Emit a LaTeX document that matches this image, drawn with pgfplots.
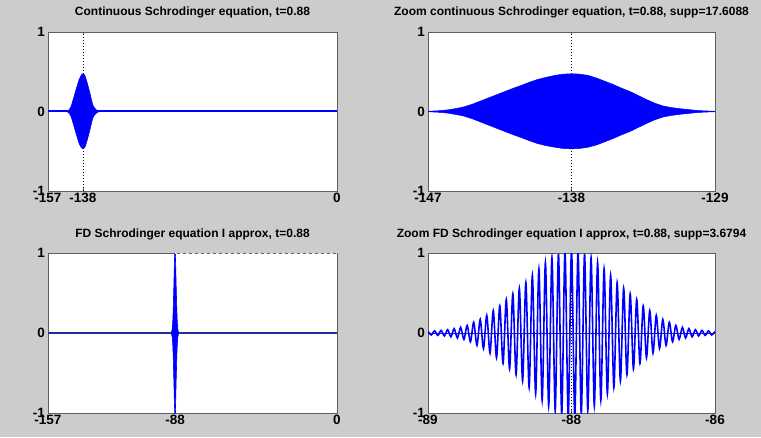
\documentclass[border=0pt]{standalone}
\usepackage{fontspec}
\setmainfont{Liberation Sans}
\usepackage{pgfplots}
\pgfplotsset{compat=1.18}
\definecolor{figbg}{RGB}{204,204,204}
\definecolor{mblue}{RGB}{0,0,255}
\definecolor{framec}{RGB}{95,95,95}
\definecolor{zline}{RGB}{40,40,150}

\pgfplotsset{
  mstyle/.style={
    scale only axis,
    anchor=south west,
    axis background/.style={fill=white},
    axis line style={framec, line width=0.9pt},
    ymin=-1, ymax=1,
    ytick={-1,0,1}, yticklabels={-1,0,1},
    tick align=inside, major tick length=3pt,
    tick style={framec, line width=0.6pt},
    ticklabel style={font=\bfseries\fontsize{13.5}{15}\selectfont},
    xticklabel style={inner sep=2pt},
    yticklabel style={inner sep=3pt},
    title style={font=\bfseries\fontsize{12}{14}\selectfont, at={(0.5,1)}, anchor=base, yshift=10pt},
  },
  dotline/.style={black, line width=0.7pt, dash pattern=on 1.2pt off 1.8pt},
}

\begin{document}
\begin{tikzpicture}[x=1pt,y=1pt]
\useasboundingbox (0,0) rectangle (761,437);
\fill[figbg] (0,0) rectangle (761,437);

% ---------- top left ----------
\begin{axis}[mstyle, at={(48pt,246pt)}, width=289pt, height=159pt,
  xmin=-157, xmax=0, xtick={-157,-138,0}, xticklabels={-157,-138,0},
  title={Continuous Schrodinger equation, t=0.88}]
\addplot[dotline] coordinates {(-138,-1) (-138,1)};
\addplot[draw=mblue, line width=2pt] coordinates {(-157,0) (0,0)};
\addplot[draw=mblue, fill=mblue, line width=0.5pt, line join=round] coordinates {
(-146.8,0.003) (-146.13,0.01) (-145.6,0.02) (-145.15,0.035) (-144.65,0.055) (-144.1,0.09) (-143.6,0.13) (-143.1,0.17) (-142.6,0.21) (-142.1,0.25) (-141.6,0.29) (-141.05,0.33) (-140.55,0.37) (-140.05,0.405) (-139.55,0.43) (-139,0.455) (-138.5,0.47) (-138,0.475)
(-137.5,0.47) (-137,0.455) (-136.45,0.42) (-135.95,0.38) (-135.45,0.34) (-134.95,0.295) (-134.4,0.25) (-133.9,0.20) (-133.4,0.15) (-132.9,0.105) (-132.4,0.07) (-131.9,0.05) (-131.35,0.035) (-130.85,0.025) (-130.4,0.015) (-129.87,0.008) (-129.2,0.003)
(-129.2,-0.003) (-129.87,-0.008) (-130.4,-0.015) (-130.85,-0.025) (-131.35,-0.035) (-131.9,-0.05) (-132.4,-0.07) (-132.9,-0.105) (-133.4,-0.15) (-133.9,-0.20) (-134.4,-0.25) (-134.95,-0.295) (-135.45,-0.34) (-135.95,-0.38) (-136.45,-0.42) (-137,-0.45) (-137.5,-0.465)
(-138,-0.47) (-138.5,-0.465) (-139,-0.45) (-139.55,-0.43) (-140.05,-0.405) (-140.55,-0.37) (-141.05,-0.33) (-141.6,-0.29) (-142.1,-0.25) (-142.6,-0.21) (-143.1,-0.17) (-143.6,-0.13) (-144.1,-0.09) (-144.65,-0.055) (-145.15,-0.035) (-145.6,-0.02) (-146.13,-0.01) (-146.8,-0.003)
} -- cycle;
\end{axis}

% ---------- top right ----------
\begin{axis}[mstyle, at={(428pt,246pt)}, width=287pt, height=159pt,
  xmin=-146.8, xmax=-129.2, xtick={-146.8,-138,-129.2}, xticklabels={-147,-138,-129},
  title={Zoom continuous Schrodinger equation, t=0.88, supp=17.6088}]
\addplot[dotline] coordinates {(-138,-1) (-138,1)};
\addplot[draw=mblue, line width=1.6pt] coordinates {(-146.8,0) (-129.2,0)};
\addplot[draw=mblue, fill=mblue, line width=0.5pt, line join=round] coordinates {
(-146.8,0.003) (-146.13,0.01) (-145.6,0.02) (-145.15,0.035) (-144.65,0.055) (-144.1,0.09) (-143.6,0.13) (-143.1,0.17) (-142.6,0.21) (-142.1,0.25) (-141.6,0.29) (-141.05,0.33) (-140.55,0.37) (-140.05,0.405) (-139.55,0.43) (-139,0.455) (-138.5,0.47) (-138,0.475)
(-137.5,0.47) (-137,0.455) (-136.45,0.42) (-135.95,0.38) (-135.45,0.34) (-134.95,0.295) (-134.4,0.25) (-133.9,0.20) (-133.4,0.15) (-132.9,0.105) (-132.4,0.07) (-131.9,0.05) (-131.35,0.035) (-130.85,0.025) (-130.4,0.015) (-129.87,0.008) (-129.2,0.003)
(-129.2,-0.003) (-129.87,-0.008) (-130.4,-0.015) (-130.85,-0.025) (-131.35,-0.035) (-131.9,-0.05) (-132.4,-0.07) (-132.9,-0.105) (-133.4,-0.15) (-133.9,-0.20) (-134.4,-0.25) (-134.95,-0.295) (-135.45,-0.34) (-135.95,-0.38) (-136.45,-0.42) (-137,-0.45) (-137.5,-0.465)
(-138,-0.47) (-138.5,-0.465) (-139,-0.45) (-139.55,-0.43) (-140.05,-0.405) (-140.55,-0.37) (-141.05,-0.33) (-141.6,-0.29) (-142.1,-0.25) (-142.6,-0.21) (-143.1,-0.17) (-143.6,-0.13) (-144.1,-0.09) (-144.65,-0.055) (-145.15,-0.035) (-145.6,-0.02) (-146.13,-0.01) (-146.8,-0.003)
} -- cycle;
\end{axis}

% ---------- bottom left ----------
\begin{axis}[mstyle, at={(48pt,24pt)}, width=289pt, height=160pt,
  xmin=-157, xmax=0, xtick={-157,-88,0}, xticklabels={-157,-88,0},
  title={FD Schrodinger equation I approx, t=0.88},
  after end axis/.code={\draw[gray!20, line width=1pt, dash pattern=on 3pt off 3pt, dash phase=1.5pt] (axis cs:-88,1) -- (axis cs:0,1);}]
\addplot[draw=zline, line width=1.2pt] coordinates {(-157,0) (0,0)};
\addplot[draw=mblue, fill=mblue, line width=0.6pt, line join=round] coordinates {
(-89.84,0.02) (-89.6,0.04) (-89.4,0.075) (-89.2,0.16) (-89,0.28) (-88.8,0.45) (-88.6,0.62) (-88.4,0.82) (-88.2,0.97) (-88,1.05)
(-87.8,0.97) (-87.6,0.82) (-87.4,0.62) (-87.2,0.45) (-87,0.28) (-86.8,0.16) (-86.6,0.075) (-86.4,0.04) (-86.16,0.02)
(-86.16,-0.02) (-86.4,-0.04) (-86.6,-0.075) (-86.8,-0.16) (-87,-0.28) (-87.2,-0.45) (-87.4,-0.62) (-87.6,-0.82) (-87.8,-0.97) (-88,-1.05)
(-88.2,-0.97) (-88.4,-0.82) (-88.6,-0.62) (-88.8,-0.45) (-89,-0.28) (-89.2,-0.16) (-89.4,-0.075) (-89.6,-0.04) (-89.84,-0.02)
} -- cycle;
\end{axis}

% ---------- bottom right ----------
\begin{axis}[mstyle, at={(428pt,24pt)}, width=287pt, height=160pt,
  xmin=-89.84, xmax=-86.16, xtick={-89.84,-88,-86.16}, xticklabels={-89,-88,-86},
  title={Zoom FD Schrodinger equation I approx, t=0.88, supp=3.6794}]
\addplot[draw=zline, line width=0.8pt] coordinates {(-89.84,0) (-86.16,0)};
\addplot[dotline] coordinates {(-88,-1) (-88,1)};
\addplot[draw=mblue, line width=1.6pt, smooth] coordinates {
(-89.8392,0.02) (-89.7974,-0.024) (-89.7556,0.027) (-89.7138,-0.03) (-89.672,0.033) (-89.6302,-0.037) (-89.5884,0.042) (-89.5466,-0.048) (-89.5048,0.055) (-89.463,-0.062) (-89.4212,0.07) (-89.3794,-0.08) (-89.3376,0.095) (-89.2958,-0.11) (-89.254,0.135) (-89.2122,-0.155) (-89.1704,0.17) (-89.1286,-0.195) (-89.0868,0.22) (-89.045,-0.25) (-89.0032,0.28) (-88.9614,-0.31) (-88.9196,0.34) (-88.8778,-0.38) (-88.836,0.42) (-88.7942,-0.45) (-88.7524,0.49) (-88.7106,-0.52) (-88.6688,0.56) (-88.627,-0.60) (-88.5852,0.63) (-88.5434,-0.68) (-88.5016,0.72) (-88.4598,-0.76) (-88.418,0.80) (-88.3762,-0.84) (-88.3344,0.88) (-88.2926,-0.91) (-88.2508,0.94) (-88.209,-0.965) (-88.1672,0.99) (-88.1254,-1.01) (-88.0836,1.02) (-88.0418,-1.04) (-88,1.05)
(-87.9582,-1.04) (-87.9164,1.02) (-87.8746,-1.01) (-87.8328,0.99) (-87.791,-0.965) (-87.7492,0.94) (-87.7074,-0.91) (-87.6656,0.88) (-87.6238,-0.84) (-87.582,0.80) (-87.5402,-0.76) (-87.4984,0.72) (-87.4566,-0.68) (-87.4148,0.63) (-87.373,-0.60) (-87.3312,0.56) (-87.2894,-0.52) (-87.2476,0.49) (-87.2058,-0.45) (-87.164,0.42) (-87.1222,-0.38) (-87.0804,0.34) (-87.0386,-0.31) (-86.9968,0.28) (-86.955,-0.25) (-86.9132,0.22) (-86.8714,-0.195) (-86.8296,0.17) (-86.7878,-0.155) (-86.746,0.135) (-86.7042,-0.11) (-86.6624,0.095) (-86.6206,-0.08) (-86.5788,0.07) (-86.537,-0.062) (-86.4952,0.055) (-86.4534,-0.048) (-86.4116,0.042) (-86.3698,-0.037) (-86.328,0.033) (-86.2862,-0.03) (-86.2444,0.027) (-86.2026,-0.024) (-86.1608,0.02)
};
\end{axis}
\end{tikzpicture}
\end{document}
